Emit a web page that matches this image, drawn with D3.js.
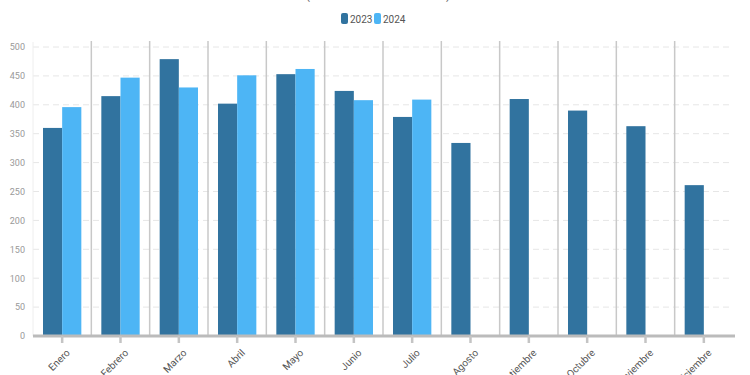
<!DOCTYPE html>
<html><head><meta charset="utf-8">
<script src="https://cdn.jsdelivr.net/npm/d3@7"></script>
<style>body{margin:0;background:#fff;font-family:Roboto,sans-serif}</style>
</head><body>
<svg id="c" width="750" height="375"></svg>
<script>
const months = ["Enero","Febrero","Marzo","Abril","Mayo","Junio","Julio","Agosto","Septiembre","Octubre","Noviembre","Diciembre"];
const series = ["2023","2024"];
const values2023 = [360,415,479,402,453,424,379,334,410,390,363,261];
const values2024 = [396,447,430,451,462,408,409,null,null,null,null,null];
const yTicks = [0,50,100,150,200,250,300,350,400,450,500];
const colors = ["#31739f","#4db5f5"];

const svg = d3.select("#c");
const m = {l:33, r:733, t:47, b:336};
const x = d3.scaleBand().domain(months).range([m.l, m.r]);
const x1 = d3.scaleBand().domain(series).range([10, x.bandwidth()-10]);
const y = d3.scaleLinear().domain([0,500]).range([m.b, m.t]);

// title (cut off at top edge, as in the reference)
svg.append("text").attr("x",378).attr("y",-1).attr("text-anchor","middle")
  .attr("font-size",13).attr("fill","#666").text("(Enero 2023 - Julio 2024)");

// legend
const lg = svg.append("g");
const legX = [341, 374];
series.forEach((s,i)=>{
  lg.append("rect").attr("x",legX[i]).attr("y",13).attr("width",7).attr("height",11).attr("rx",2).attr("fill",colors[i]);
  lg.append("text").attr("x",legX[i]+9).attr("y",22.5).attr("font-size",10).attr("fill","#555").text(s);
});

// horizontal grid
svg.append("g").selectAll("line").data(yTicks.filter(d=>d>0)).join("line")
  .attr("x1",m.l).attr("x2",m.r).attr("y1",d=>y(d)).attr("y2",d=>y(d))
  .attr("stroke","#e6e6e6").attr("stroke-width",1).attr("stroke-dasharray","6,4");

// left faint axis line
svg.append("line").attr("x1",m.l).attr("x2",m.l).attr("y1",m.t-5).attr("y2",m.b)
  .attr("stroke","#eeeeee");

// vertical separators
svg.append("g").selectAll("line").data(months.slice(1)).join("line")
  .attr("x1",d=>x(d)).attr("x2",d=>x(d)).attr("y1",41).attr("y2",m.b)
  .attr("stroke","#c8c8c8").attr("stroke-width",1.5);

// y labels
const yAxis = d3.axisLeft(y).tickValues(yTicks).tickSize(0).tickPadding(8);
const ya = svg.append("g").attr("transform",`translate(${m.l},0)`).call(yAxis);
ya.select(".domain").remove();
ya.selectAll("text").attr("font-size",9).attr("fill","#999").attr("font-family","Roboto,sans-serif");

// bars
const vals = [values2023, values2024];
series.forEach((s,i)=>{
  svg.append("g").selectAll("rect").data(months.map((mo,j)=>({mo,v:vals[i][j]})).filter(d=>d.v!=null))
    .join("rect")
    .attr("x",d=>x(d.mo)+x1(s)).attr("width",x1.bandwidth())
    .attr("y",d=>y(d.v)).attr("height",d=>y(0)-y(d.v)).attr("fill",colors[i]);
});

// x axis
const xAxis = d3.axisBottom(x).tickSize(7).tickSizeOuter(0).tickPadding(4);
const xa = svg.append("g").attr("transform",`translate(0,${m.b})`).call(xAxis);
xa.select(".domain").attr("stroke","#bbbbbb").attr("stroke-width",3).attr("d",`M${m.l},0H${m.r+2}`);
xa.selectAll(".tick line").attr("stroke","#c4c4c4").attr("stroke-width",2.5);
xa.selectAll("text").attr("font-size",10).attr("fill","#555").attr("font-family","Roboto,sans-serif")
  .attr("text-anchor","end").attr("x",0).attr("y",0).attr("dy","0.35em")
  .attr("transform","translate(6,15) rotate(-45)");
</script>
</body></html>
